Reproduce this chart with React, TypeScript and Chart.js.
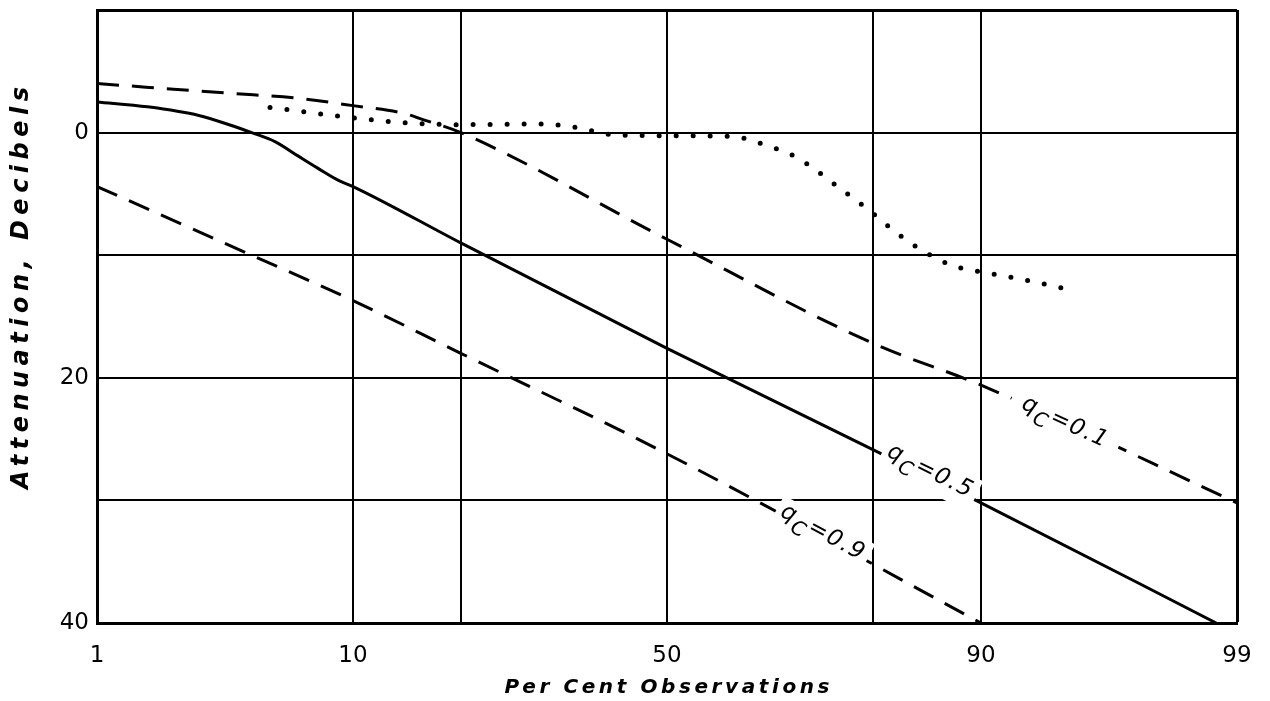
import React, { useEffect, useRef } from 'react';
import { Chart, registerables, LinearScale } from 'chart.js';

Chart.register(...registerables);

// ---------- data ----------
const X_TICKS = [1, 10, 20, 50, 80, 90, 99];
const X_LABELS = [1, 10, 50, 90, 99];
const Y_LABELS = [0, 20, 40];

// q_C = 0.1 (upper dashed)
const Q01_X = [1, 3.75, 6.6, 10, 14.2, 16.2, 20, 50, 80, 90, 99];
const Q01_Y = [-4.0, -3.2, -2.8, -2.2, -1.55, -1.0, 0, 8.7, 17.2, 20.6, 30.2];
// q_C = 0.5 (solid)
const Q05_X = [1, 1.7, 2.8, 3.75, 4.5, 5.5, 6.6, 7.7, 9.0, 10, 20, 50, 90, 98.75];
const Q05_Y = [-2.5, -2.1, -1.4, -0.6, 0, 0.75, 1.9, 2.9, 3.9, 4.4, 9.0, 17.6, 30.2, 40];
// q_C = 0.9 (lower dashed)
const Q09_X = [1, 4.5, 10, 20, 50, 90];
const Q09_Y = [4.4, 10.0, 13.7, 18.0, 26.2, 40];
// dotted curve
const DOT_X = [5.26, 10.1, 14.3, 19.7, 30.6, 35.7, 40.9, 49.4, 60.3, 65.5, 70.1, 75.9, 79.1, 82.1, 84.9, 87.7, 90.2, 92.4, 94.95];
const DOT_Y = [-2.05, -1.2, -0.8, -0.65, -0.7, -0.4, 0.15, 0.25, 0.3, 1.0, 2.0, 4.5, 6.1, 7.9, 9.5, 10.8, 11.4, 11.9, 12.8];

// curve labels
const LABEL_TEXT = ['0.1', '0.5', '0.9'];
const LABEL_X = [94.8, 85.9, 73.8];
const LABEL_Y = [23.6, 27.6, 32.6];

const X_TITLE = 'Per Cent Observations';
const Y_TITLE = 'Attenuation, Decibels';

// ---------- probability (probit) scale ----------
function probit(p: number): number {
  const a = [-3.969683028665376e1, 2.209460984245205e2, -2.759285104469687e2, 1.38357751867269e2, -3.066479806614716e1, 2.506628277459239];
  const b = [-5.447609879822406e1, 1.615858368580409e2, -1.556989798598866e2, 6.680131188771972e1, -1.328068155288572e1];
  const c = [-7.784894002430293e-3, -3.223964580411365e-1, -2.400758277161838, -2.549732539343734, 4.374664141464968, 2.938163982698783];
  const d = [7.784695709041462e-3, 3.224671290700398e-1, 2.445134137142996, 3.754408661907416];
  const pl = 0.02425;
  if (p < pl) {
    const q = Math.sqrt(-2 * Math.log(p));
    return (((((c[0] * q + c[1]) * q + c[2]) * q + c[3]) * q + c[4]) * q + c[5]) / ((((d[0] * q + d[1]) * q + d[2]) * q + d[3]) * q + 1);
  }
  if (p <= 1 - pl) {
    const q = p - 0.5;
    const r = q * q;
    return ((((((a[0] * r + a[1]) * r + a[2]) * r + a[3]) * r + a[4]) * r + a[5]) * q) / (((((b[0] * r + b[1]) * r + b[2]) * r + b[3]) * r + b[4]) * r + 1);
  }
  const q = Math.sqrt(-2 * Math.log(1 - p));
  return -(((((c[0] * q + c[1]) * q + c[2]) * q + c[3]) * q + c[4]) * q + c[5]) / ((((d[0] * q + d[1]) * q + d[2]) * q + d[3]) * q + 1);
}

function normCdf(z: number): number {
  let lo = 1e-9, hi = 1 - 1e-9;
  for (let i = 0; i < 60; i++) {
    const mid = (lo + hi) / 2;
    if (probit(mid) < z) lo = mid; else hi = mid;
  }
  return (lo + hi) / 2;
}

class ProbitScale extends (LinearScale as any) {
  static id = 'probit';
  buildTicks() {
    (this as any).start = (this as any).min;
    (this as any).end = (this as any).max;
    return X_TICKS.map((v) => ({ value: v }));
  }
  configure() {
    super.configure();
    (this as any)._zMin = probit((this as any).min / 100);
    (this as any)._zMax = probit((this as any).max / 100);
  }
  getPixelForValue(value: number) {
    if (value === null || value === undefined || isNaN(value)) return NaN;
    const v = Math.min(Math.max(value, 1e-6), 100 - 1e-6);
    const z = probit(v / 100);
    const self = this as any;
    return self.getPixelForDecimal((z - self._zMin) / (self._zMax - self._zMin));
  }
  getValueForPixel(pixel: number) {
    const self = this as any;
    const z = self._zMin + self.getDecimalForPixel(pixel) * (self._zMax - self._zMin);
    return 100 * normCdf(z);
  }
}
Chart.register(ProbitScale as any);

// ---------- helpers ----------
const toPoints = (xs: number[], ys: number[]) => xs.map((x, i) => ({ x, y: ys[i] }));
const CURVES_X = [Q01_X, Q05_X, Q09_X];
const CURVES_Y = [Q01_Y, Q05_Y, Q09_Y];

const FONT = '"DejaVu Sans", sans-serif';

function spacedText(ctx: CanvasRenderingContext2D, text: string, font: string, target: number) {
  ctx.font = font;
  (ctx as any).letterSpacing = '0px';
  const w = ctx.measureText(text).width;
  const sp = Math.max(0, (target - w) / (text.length - 1));
  (ctx as any).letterSpacing = sp + 'px';
  return sp;
}

const titlesPlugin = {
  id: 'axisTitles',
  afterDraw(chart: any) {
    const ctx: CanvasRenderingContext2D = chart.ctx;
    const area = chart.chartArea;
    ctx.save();
    ctx.fillStyle = '#000';
    ctx.textAlign = 'center';
    ctx.textBaseline = 'middle';
    let sp = spacedText(ctx, X_TITLE, `italic bold 20px ${FONT}`, 325);
    ctx.fillText(X_TITLE, (area.left + area.right) / 2 + sp / 2, 688);
    ctx.restore();

    ctx.save();
    ctx.fillStyle = '#000';
    ctx.textAlign = 'center';
    ctx.textBaseline = 'middle';
    ctx.translate(22, 288);
    ctx.rotate(-Math.PI / 2);
    sp = spacedText(ctx, Y_TITLE, `italic bold 24px ${FONT}`, 402);
    ctx.fillText(Y_TITLE, sp / 2, 0);
    ctx.restore();
  },
};

const curveLabelPlugin = {
  id: 'curveLabels',
  afterDatasetsDraw(chart: any) {
    const ctx: CanvasRenderingContext2D = chart.ctx;
    const xs = chart.scales.x;
    const ys = chart.scales.y;
    LABEL_TEXT.forEach((txt, i) => {
      const cx = CURVES_X[i];
      const cy = CURVES_Y[i];
      let j = 0;
      while (j < cx.length - 2 && cx[j + 1] < LABEL_X[i]) j++;
      const ang = Math.atan2(
        ys.getPixelForValue(cy[j + 1]) - ys.getPixelForValue(cy[j]),
        xs.getPixelForValue(cx[j + 1]) - xs.getPixelForValue(cx[j])
      );
      const px = xs.getPixelForValue(LABEL_X[i]);
      const py = ys.getPixelForValue(LABEL_Y[i]);
      const big = `italic 23px ${FONT}`;
      const small = `italic 20px ${FONT}`;
      ctx.save();
      ctx.translate(px, py);
      ctx.rotate(ang);
      (ctx as any).letterSpacing = '1.5px';
      ctx.font = big;
      const wq = ctx.measureText('q').width;
      ctx.font = small;
      const wc = ctx.measureText('C').width;
      ctx.font = big;
      const rest = '=' + txt;
      const wr = ctx.measureText(rest).width;
      const W = wq + wc + wr;
      const pad = i === 0 ? 12 : 5;
      ctx.fillStyle = '#fff';
      ctx.fillRect(-W / 2 - pad, -14, W + 2 * pad, 34);
      ctx.fillStyle = '#000';
      ctx.textAlign = 'left';
      ctx.textBaseline = 'alphabetic';
      let x0 = -W / 2;
      ctx.font = big;
      ctx.fillText('q', x0, 6);
      x0 += wq;
      ctx.font = small;
      ctx.fillText('C', x0, 15);
      x0 += wc;
      ctx.font = big;
      ctx.fillText(rest, x0, 7);
      ctx.restore();
    });
  },
};

export default function App() {
  const ref = useRef<HTMLCanvasElement | null>(null);
  useEffect(() => {
    document.body.style.margin = '0';
    const canvas = ref.current;
    if (!canvas) return;
    const lineBase = {
      pointRadius: 0,
      borderColor: '#000',
      backgroundColor: '#000',
      fill: false,
      cubicInterpolationMode: 'monotone' as const,
    };
    const chart = new Chart(canvas, {
      type: 'line',
      data: {
        datasets: [
          { ...lineBase, label: 'qC=0.1', data: toPoints(Q01_X, Q01_Y), borderWidth: 3, borderDash: [22, 13] },
          { ...lineBase, label: 'qC=0.5', data: toPoints(Q05_X, Q05_Y), borderWidth: 3 },
          { ...lineBase, label: 'qC=0.9', data: toPoints(Q09_X, Q09_Y), borderWidth: 3, borderDash: [22, 13] },
          { ...lineBase, label: 'dotted', data: toPoints(DOT_X, DOT_Y), borderWidth: 5, borderDash: [0, 17], borderCapStyle: 'round' },
        ] as any,
      },
      options: {
        animation: false,
        responsive: false,
        devicePixelRatio: 1,
        events: [],
        layout: { padding: { left: 0, right: 33, top: 10, bottom: 0 } },
        plugins: { legend: { display: false }, tooltip: { enabled: false }, title: { display: false } },
        scales: {
          x: {
            type: 'probit' as any,
            min: 1,
            max: 99,
            afterFit: (s: any) => {
              s.height = 78;
              s.paddingLeft = 0;
              s.paddingRight = 0;
            },
            grid: {
              color: '#000',
              lineWidth: (c: any) => (c.tick && c.tick.value === 99 ? 3 : 2),
              drawTicks: false,
            },
            border: { display: true, color: '#000', width: 3 },
            ticks: {
              autoSkip: false,
              maxRotation: 0,
              minRotation: 0,
              padding: 19,
              color: '#000',
              font: { family: FONT, size: 23 },
              callback: (v: any) => (X_LABELS.includes(Number(v)) ? String(v) : ''),
            },
          } as any,
          y: {
            type: 'linear',
            reverse: true,
            min: -10,
            max: 40,
            afterFit: (s: any) => {
              s.width = 97;
              s.paddingTop = 0;
              s.paddingBottom = 0;
            },
            grid: {
              color: '#000',
              lineWidth: (c: any) => (c.tick && c.tick.value === -10 ? 3 : 2),
              drawTicks: false,
            },
            border: { display: true, color: '#000', width: 3 },
            ticks: {
              stepSize: 10,
              padding: 8,
              color: '#000',
              font: { family: FONT, size: 23 },
              callback: (v: any) => (Y_LABELS.includes(Number(v)) ? String(v) : ''),
            },
          },
        },
      },
      plugins: [curveLabelPlugin, titlesPlugin],
    });
    return () => chart.destroy();
  }, []);
  return (
    <div style={{ position: 'fixed', left: 0, top: 0, width: 1270, height: 701, background: '#fff' }}>
      <canvas ref={ref} width={1270} height={701} style={{ display: 'block', width: 1270, height: 701 }} />
    </div>
  );
}
